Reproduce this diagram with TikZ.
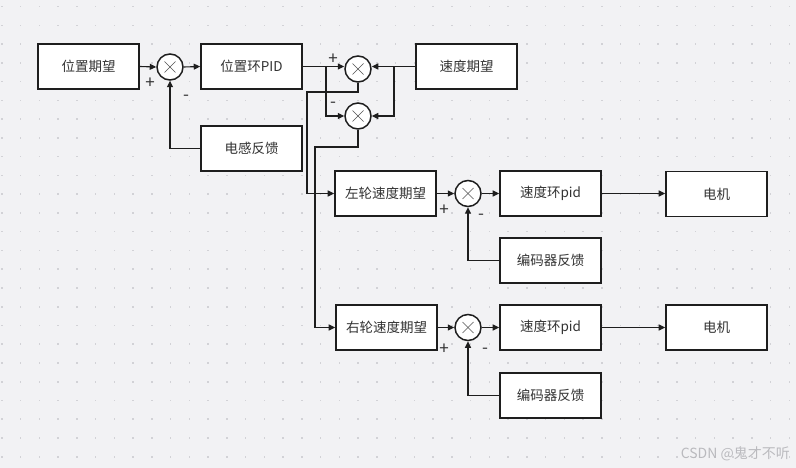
\documentclass[tikz,border=0pt]{standalone}
\usepackage{fontspec}
\setmainfont{Noto Sans CJK SC}
\usetikzlibrary{arrows.meta,calc}
\definecolor{bg}{HTML}{F2F2F4}
\definecolor{dotc}{HTML}{D2D2D6}
\definecolor{linec}{HTML}{1E1E1E}
\definecolor{txt}{HTML}{333333}
\definecolor{wm}{HTML}{BABABE}
\begin{document}
\begin{tikzpicture}[x=1pt,y=-1pt,
  blk/.style={draw=linec,line width=1.6pt,fill=white,minimum width=101pt,minimum height=45pt,inner sep=0pt,text=txt,font=\fontsize{13.5}{16}\selectfont},
  sumc/.style={draw=linec,line width=1.5pt,fill=white,circle,minimum size=26pt,inner sep=0pt},
  conn/.style={draw=linec,line width=1.1pt},
  arr/.style={conn,-{Triangle[length=6.5pt,width=6pt]}},
  sgn/.style={text=txt,font=\fontsize{17}{19}\selectfont,inner sep=0pt}]
\useasboundingbox (0,0) rectangle (796,468);
\fill[bg] (0,0) rectangle (796,468);
\foreach \i in {0,...,42}{\foreach \j in {0,...,24}{
  \fill[dotc] ({1.8+18.75*\i-0.8},{6.7+18.75*\j-0.8}) rectangle ++(1.6,1.6);}}
% blocks
\node[blk] (n1) at (88.5,66.5) {位置期望};
\node[sumc] (s1) at (170,67) {};
\node[blk] (n2) at (251.5,66.5) {位置环PID};
\node[blk] (n3) at (251.5,148.5) {电感反馈};
\node[sumc] (s2) at (358,69) {};
\node[sumc] (s3) at (358,116) {};
\node[blk] (n4) at (466.5,66.5) {速度期望};
\node[blk] (n5) at (385.5,193.5) {左轮速度期望};
\node[sumc] (s4) at (468,193.5) {};
\node[blk] (n6) at (550.5,193.5) {速度环pid};
\node[blk] (n7) at (716.5,194) {电机};
\node[blk] (n9) at (550.5,260.5) {编码器反馈};
\node[blk] (n8) at (386.5,327.5) {右轮速度期望};
\node[sumc] (s5) at (468,327.5) {};
\node[blk] (n10) at (550.5,327.5) {速度环pid};
\node[blk] (n11) at (716.5,327.5) {电机};
\node[blk] (n12) at (550.5,395.5) {编码器反馈};
% crosses
\foreach \s in {s1,s2,s3,s4,s5}{
  \draw[txt!85,line width=0.7pt] ($(\s)+(-5.5,-5.5)$) -- ($(\s)+(5.5,5.5)$);
  \draw[txt!85,line width=0.7pt] ($(\s)+(-5.5,5.5)$) -- ($(\s)+(5.5,-5.5)$);}
% coordinates
\coordinate (b1) at (326,66.5);
\coordinate (b2) at (394,66.5);
\coordinate (k1) at (358,92);
\coordinate (k2) at (307,92);
\coordinate (k3) at (358,147);
\coordinate (k4) at (315,147);
% connectors
\draw[arr] (n1.east) -- (s1.west);
\draw[arr] (s1.east) -- (n2.west);
\draw[arr] (n3.west) -| (s1.south);
\draw[arr] (n2.east) -- (s2.west |- n2.east);
\draw[arr] (b1) |- (s3.west);
\draw[arr] (n4.west) -- (s2.east |- n4.west);
\draw[arr] (b2) |- (s3.east);
\draw[arr] (s2.south) -- (k1) -- (k2) |- (n5.west);
\draw[arr] (s3.south) -- (k3) -- (k4) |- (n8.west);
\draw[arr] (n5.east) -- (s4.west);
\draw[arr] (s4.east) -- (n6.west);
\draw[arr] (n6.east) -- (n7.west |- n6.east);
\draw[arr] (n9.west) -| (s4.south);
\draw[arr] (n8.east) -- (s5.west);
\draw[arr] (s5.east) -- (n10.west);
\draw[arr] (n10.east) -- (n11.west);
\draw[arr] (n12.west) -| (s5.south);
% signs
\node[sgn] (p1) at (150,83) {+};
\node[sgn] (m1) at (186,98) {-};
\node[sgn] (p2) at (333,59.5) {+};
\node[sgn] (m2) at (333,105) {-};
\node[sgn] (p3) at (444,210.5) {+};
\node[sgn] (m3) at (481,216.5) {-};
\node[sgn] (p4) at (444,349.5) {+};
\node[sgn] (m4) at (485,351) {-};
% watermark
\node[text=wm,font=\fontsize{14}{16}\selectfont,anchor=east,inner sep=0pt] (wmk) at (790,454) {CSDN @鬼才不听};
\end{tikzpicture}
\end{document}
